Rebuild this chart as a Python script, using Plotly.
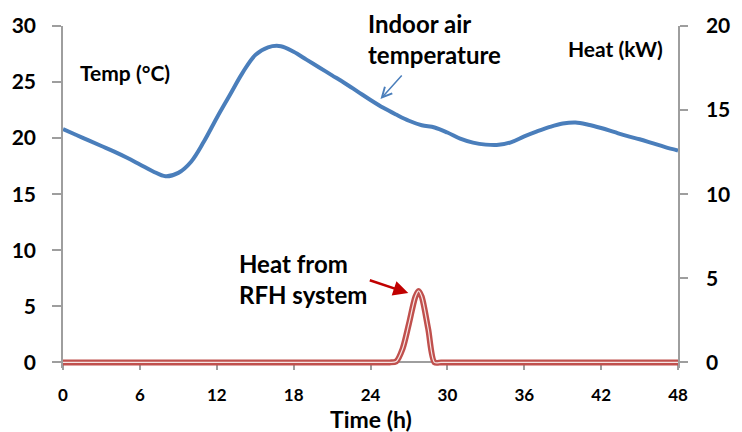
import plotly.graph_objects as go

# ---- data ----
hours = list(range(49))
indoor_temp = [20.8, 20.3, 19.8, 19.3, 18.8, 18.25, 17.65, 17.05, 16.6, 16.9,
               17.9, 19.7, 21.8, 23.8, 25.8, 27.4, 28.1, 28.2, 27.7, 27.0,
               26.3, 25.6, 24.9, 24.15, 23.4, 22.7, 22.1, 21.55, 21.15, 20.95,
               20.5, 19.95, 19.6, 19.42, 19.4, 19.65, 20.15, 20.6, 21.0, 21.3,
               21.4, 21.2, 20.9, 20.55, 20.2, 19.9, 19.55, 19.2, 18.9]

heat_hours = [0, 6, 12, 18, 24, 25, 25.5, 26, 26.5, 27, 27.5, 27.75, 28, 28.5,
              29, 29.5, 30, 36, 42, 48]
heat_kw = [0, 0, 0, 0, 0, 0, 0, 0.05, 0.8, 2.3, 3.9, 4.25, 3.9, 2.0,
           0, 0, 0, 0, 0, 0]

x_ticks = [0, 6, 12, 18, 24, 30, 36, 42, 48]
temp_ticks = [0, 5, 10, 15, 20, 25, 30]
heat_ticks = [0, 5, 10, 15, 20]

# ---- style ----
BLUE = "#4A7EBB"
RED = "#C0504D"
GREY = "#9E9E9E"
FONT = "Lato"

fig = go.Figure()
fig.add_trace(go.Scatter(x=hours, y=indoor_temp, mode="lines",
                         line=dict(color=BLUE, width=4, shape="spline", smoothing=1.0),
                         hoverinfo="skip"))
fig.add_trace(go.Scatter(x=heat_hours, y=heat_kw, mode="lines", yaxis="y2",
                         line=dict(color=RED, width=6, shape="spline", smoothing=0.8),
                         hoverinfo="skip"))
fig.add_trace(go.Scatter(x=heat_hours, y=heat_kw, mode="lines", yaxis="y2",
                         line=dict(color="white", width=1.2, shape="spline", smoothing=0.8),
                         opacity=0.85, hoverinfo="skip"))

bold = dict(family=FONT, color="black", weight="bold")

fig.update_layout(
    width=742, height=432,
    margin=dict(l=62, r=53, t=21, b=64),
    plot_bgcolor="white", paper_bgcolor="white",
    showlegend=False,
    xaxis=dict(range=[0, 48], tickvals=x_ticks, anchor="free", position=0.5 / 30.5,
               showline=True, linecolor=GREY, linewidth=1.5,
               ticks="outside", ticklen=7, tickcolor=GREY, tickwidth=1.5,
               showgrid=False, zeroline=False, layer="below traces",
               tickfont=dict(size=17, **bold), ticklabelstandoff=10),
    yaxis=dict(range=[-0.5, 30], tickvals=temp_ticks,
               showline=True, linecolor=GREY, linewidth=1.5,
               ticks="outside", ticklen=9, tickcolor=GREY, tickwidth=1.5,
               showgrid=False, zeroline=False, layer="below traces",
               tickfont=dict(size=21, **bold), ticklabelstandoff=12),
    yaxis2=dict(range=[-1 / 3, 20], tickvals=heat_ticks, overlaying="y", side="right",
                showline=True, linecolor=GREY, linewidth=1.5,
                ticks="outside", ticklen=8, tickcolor=GREY, tickwidth=1.5,
                showgrid=False, zeroline=False, layer="below traces",
                tickfont=dict(size=21, **bold), ticklabelstandoff=14),
)

annotations = [
    dict(text="Temp (°C)", xref="paper", yref="paper", x=15 / 627, y=(367.7 - 68) / 346.7,
         xanchor="left", yanchor="middle", showarrow=False, font=dict(size=21, **bold)),
    dict(text="Heat (kW)", xref="paper", yref="paper", x=(676 - 62) / 627, y=(367.7 - 44) / 346.7,
         xanchor="right", yanchor="middle", showarrow=False, font=dict(size=21, **bold)),
    dict(text="Indoor air<br>temperature", xref="paper", yref="paper", x=(371 - 62) / 627,
         y=(367.7 - 2) / 346.7, xanchor="left", yanchor="top", align="left",
         showarrow=False, font=dict(size=24, **bold)),
    dict(text="Heat from<br>RFH system", xref="paper", yref="paper", x=(239 - 62) / 627,
         y=(367.7 - 245) / 346.7, xanchor="left", yanchor="top", align="left",
         showarrow=False, font=dict(size=24, **bold)),
    dict(text="Time (h)", xref="paper", yref="paper", x=0.5, y=(367.7 - 419) / 346.7,
         xanchor="center", yanchor="middle", showarrow=False, font=dict(size=23, **bold)),
    # arrows
    dict(text="", x=24.78, y=23.48, xref="x", yref="y", ax=22.6, ay=-25,
         showarrow=True, arrowhead=5, arrowsize=1.3, arrowwidth=1.5, arrowcolor=BLUE, standoff=0),
    dict(text="", x=26.95, y=4.12, xref="x", yref="y2", ax=-40, ay=-13.4,
         showarrow=True, arrowhead=2, arrowsize=1.2, arrowwidth=2.5, arrowcolor="#C00000", standoff=0),
]
fig.update_layout(annotations=annotations)

fig.write_html("out.html")
